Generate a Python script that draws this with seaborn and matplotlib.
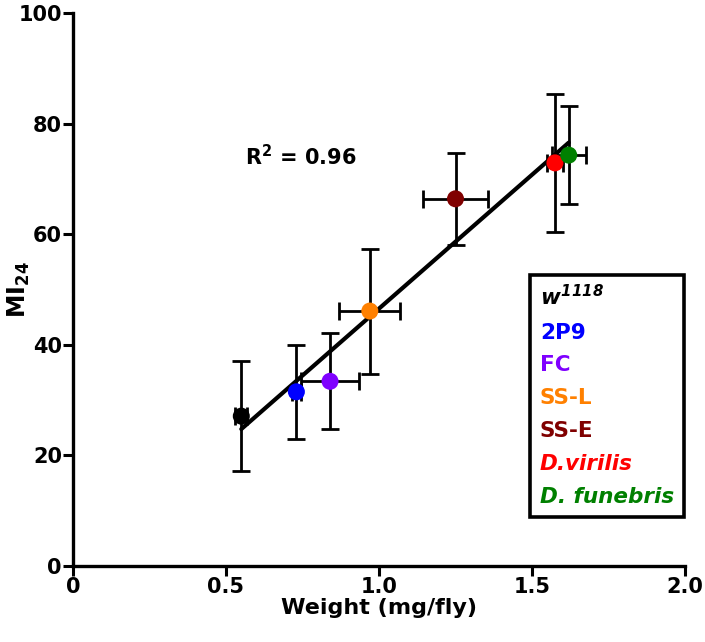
import numpy as np
import pandas as pd
import matplotlib
matplotlib.use("Agg")
import matplotlib.pyplot as plt
from matplotlib.lines import Line2D
import seaborn as sns

# ---- data ----
strains = ["w1118", "2P9", "FC", "SS-L", "SS-E", "D.virilis", "D. funebris"]
weight = [0.55, 0.73, 0.84, 0.97, 1.25, 1.575, 1.62]
weight_err = [0.02, 0.015, 0.095, 0.10, 0.105, 0.025, 0.055]
mi24 = [27.1, 31.5, 33.4, 46.1, 66.4, 72.9, 74.3]
mi24_err = [10.0, 8.5, 8.7, 11.3, 8.3, 12.5, 8.8]
colors = ["#000000", "#0000FF", "#7F00FF", "#FF8000", "#800000", "#FF0000", "#008000"]
legend_labels = [r"$\mathit{w}^{\mathsf{1118}}$", "2P9", "FC", "SS-L", "SS-E", "D.virilis", "D. funebris"]
italic_labels = [False, False, False, False, False, True, True]
x_ticks = [0, 0.5, 1.0, 1.5, 2.0]
x_ticklabels = ["0", "0.5", "1.0", "1.5", "2.0"]
y_ticks = [0, 20, 40, 60, 80, 100]
r2_text = r"R$^{\mathrm{2}}$ = 0.96"

df = pd.DataFrame({"strain": strains, "weight": weight, "weight_err": weight_err,
                   "mi24": mi24, "mi24_err": mi24_err})

sns.set_theme(style="ticks")
FONT = "DejaVu Sans"
plt.rcParams["font.family"] = [FONT]
plt.rcParams["font.weight"] = "bold"
plt.rcParams["text.color"] = "black"
plt.rcParams["axes.labelcolor"] = "black"
plt.rcParams["xtick.color"] = "black"
plt.rcParams["ytick.color"] = "black"
plt.rcParams["axes.edgecolor"] = "black"
plt.rcParams["mathtext.fontset"] = "custom"
plt.rcParams["mathtext.rm"] = FONT + ":bold"
plt.rcParams["mathtext.it"] = FONT + ":bold:italic"
plt.rcParams["mathtext.bf"] = FONT + ":bold"
plt.rcParams["mathtext.sf"] = FONT + ":bold:italic"

fig = plt.figure(figsize=(7.05, 6.42), dpi=100)
ax = fig.add_axes([73 / 705, 1 - 566 / 642, (685 - 73) / 705, (566 - 13) / 642])

# error bars
ax.errorbar(df["weight"], df["mi24"], xerr=df["weight_err"], yerr=df["mi24_err"],
            fmt="none", ecolor="black", elinewidth=2.0, capsize=6.5, capthick=2.0, zorder=2)

# regression line
sns.regplot(data=df, x="weight", y="mi24", scatter=False, ci=None, truncate=True,
            line_kws={"color": "black", "lw": 3.0, "zorder": 3}, ax=ax)

# points
sns.scatterplot(data=df, x="weight", y="mi24", hue="strain", palette=colors,
                s=150, edgecolor="none", legend=False, zorder=4, ax=ax)

ax.text(0.562, 74.0, r2_text, fontsize=15, fontweight="bold", va="center", ha="left")

ax.set_xlim(0, 2.0)
ax.set_ylim(0, 100)
ax.set_xticks(x_ticks)
ax.set_xticklabels(x_ticklabels)
ax.set_yticks(y_ticks)
ax.set_xlabel("Weight (mg/fly)", fontsize=16, fontweight="bold", labelpad=1)
ax.set_ylabel(r"$\mathrm{MI}_{\mathrm{24}}$", fontsize=17, fontweight="bold")
ax.yaxis.set_label_coords(-0.067, 0.5)
ax.tick_params(axis="both", labelsize=15, width=2.2, length=7, direction="out", pad=1)
for lab in ax.get_xticklabels() + ax.get_yticklabels():
    lab.set_fontweight("bold")
sns.despine(ax=ax)
for sp in ["left", "bottom"]:
    ax.spines[sp].set_linewidth(2.4)

handles = [Line2D([], [], linestyle="none") for _ in strains]
leg = ax.legend(handles, legend_labels, loc="lower right", bbox_to_anchor=(0.998, 0.089),
                borderaxespad=0, handlelength=0, handletextpad=0, labelcolor=colors,
                prop={"size": 15.5, "weight": "bold"}, frameon=True, fancybox=False,
                framealpha=1.0, labelspacing=0.6, borderpad=0.45)
leg.get_frame().set_edgecolor("black")
leg.get_frame().set_linewidth(2.6)
for t, it in zip(leg.get_texts(), italic_labels):
    if it:
        t.set_fontstyle("italic")

fig.savefig("out.png", dpi=100)
